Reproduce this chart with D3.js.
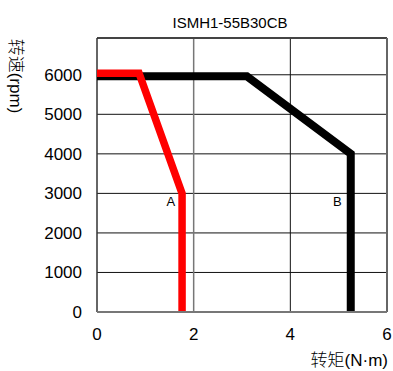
<!DOCTYPE html>
<html>
<head>
<meta charset="utf-8">
<script src="https://cdn.jsdelivr.net/npm/d3@7"></script>
<style>
body { margin: 0; background: #fff; }
svg text { font-family: "Liberation Sans", Arial, "Noto Sans CJK SC", sans-serif; fill: #000; }
.cjk { font-family: "Liberation Sans", "Noto Sans CJK SC", sans-serif; font-weight: 300; }
</style>
</head>
<body>
<div id="chart"></div>
<script>
// valeurs
var titre = "ISMH1-55B30CB";
var xTicks = [0, 2, 4, 6];
var yTicks = [0, 1000, 2000, 3000, 4000, 5000, 6000];
var courbeA = [[0, 6040], [0.87, 6040], [1.76, 3000], [1.76, 0]];
var courbeB = [[0, 5960], [3.1, 5960], [5.25, 4000], [5.25, 0]];
var etiquettes = [{ nom: "A", x: 1.53, y: 2680 }, { nom: "B", x: 4.97, y: 2680 }];

var width = 393, height = 371;
var margin = { top: 38, right: 6, bottom: 59, left: 97 };

var svg = d3.select("#chart").append("svg")
	.attr("width", width)
	.attr("height", height);

var x = d3.scaleLinear().domain([0, 6]).range([margin.left, width - margin.right]);
var y = d3.scaleLinear().domain([0, 6930]).range([height - margin.bottom, margin.top]);

// grille
svg.selectAll(".hgrid")
	.data(yTicks.filter(function(d){ return d > 0; }))
	.enter().append("line")
	.attr("x1", x(0)).attr("x2", x(6))
	.attr("y1", function(d){ return y(d); })
	.attr("y2", function(d){ return y(d); })
	.attr("stroke", "#111").attr("stroke-width", 1);

svg.selectAll(".vgrid")
	.data([2, 4])
	.enter().append("line")
	.attr("y1", y(0)).attr("y2", y(6930))
	.attr("x1", function(d){ return x(d); })
	.attr("x2", function(d){ return x(d); })
	.attr("stroke", function(d){ return d == 2 ? "#777" : "#111"; })
	.attr("stroke-width", function(d){ return d == 2 ? 1.5 : 1; });

// cadre
svg.append("line").attr("x1", x(0)).attr("x2", x(6)).attr("y1", y(6930)).attr("y2", y(6930))
	.attr("stroke", "#444").attr("stroke-width", 2);
svg.append("line").attr("x1", x(6)).attr("x2", x(6)).attr("y1", y(6930)).attr("y2", y(0))
	.attr("stroke", "#666").attr("stroke-width", 2);
svg.append("line").attr("x1", x(0)).attr("x2", x(0)).attr("y1", y(6930)).attr("y2", y(0))
	.attr("stroke", "#333").attr("stroke-width", 1.5);

var ligne = d3.line()
	.x(function(d){ return x(d[0]); })
	.y(function(d){ return y(d[1]); });

svg.append("path")
	.datum(courbeB)
	.attr("d", ligne)
	.attr("fill", "none")
	.attr("stroke", "#000")
	.attr("stroke-width", 8)
	.attr("stroke-linejoin", "miter");

svg.append("path")
	.datum(courbeA)
	.attr("d", ligne)
	.attr("fill", "none")
	.attr("stroke", "#ff0000")
	.attr("stroke-width", 7.5)
	.attr("stroke-linejoin", "miter");

svg.append("line").attr("x1", x(0)).attr("x2", x(6)).attr("y1", y(0)).attr("y2", y(0))
	.attr("stroke", "#777").attr("stroke-width", 2);

// axes
svg.selectAll(".ylab")
	.data(yTicks)
	.enter().append("text")
	.attr("x", 82)
	.attr("y", function(d){ return y(d) + 6; })
	.attr("text-anchor", "end")
	.attr("font-size", 17)
	.text(function(d){ return d; });

svg.selectAll(".xlab")
	.data(xTicks)
	.enter().append("text")
	.attr("x", function(d){ return x(d); })
	.attr("y", 340)
	.attr("text-anchor", "middle")
	.attr("font-size", 17)
	.text(function(d){ return d; });

svg.selectAll(".etiq")
	.data(etiquettes)
	.enter().append("text")
	.attr("x", function(d){ return x(d.x); })
	.attr("y", function(d){ return y(d.y); })
	.attr("text-anchor", "middle")
	.attr("font-size", 13)
	.text(function(d){ return d.nom; });

svg.append("text")
	.attr("x", 230).attr("y", 28)
	.attr("text-anchor", "middle")
	.attr("font-size", 15)
	.text(titre);

svg.append("text")
	.attr("class", "cjk")
	.attr("transform", "translate(10,76) rotate(90)")
	.attr("text-anchor", "middle")
	.attr("font-size", 17)
	.text("转速(rpm)");

svg.append("text")
	.attr("class", "cjk")
	.attr("x", 388).attr("y", 366)
	.attr("text-anchor", "end")
	.attr("font-size", 17)
	.text("转矩(N·m)");
</script>
</body>
</html>
